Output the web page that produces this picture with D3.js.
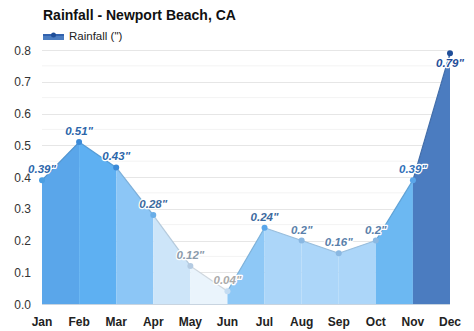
<!DOCTYPE html>
<html><head><meta charset="utf-8">
<script src="https://cdn.jsdelivr.net/npm/d3@7"></script>
<style>body{margin:0;background:#fff;}svg{display:block;font-family:"Liberation Sans",Arial,sans-serif;}</style>
</head><body>
<svg id="c" width="474" height="331"></svg>
<script>
const months = ["Jan","Feb","Mar","Apr","May","Jun","Jul","Aug","Sep","Oct","Nov","Dec"];
const rainfall = [0.39,0.51,0.43,0.28,0.12,0.04,0.24,0.2,0.16,0.2,0.39,0.79];
const valueLabels = ['0.39"','0.51"','0.43"','0.28"','0.12"','0.04"','0.24"','0.2"','0.16"','0.2"','0.39"','0.79"'];
const yTicks = [0,0.1,0.2,0.3,0.4,0.5,0.6,0.7,0.8];
const segmentColors = ["#5aa6ea","#5eb0f2","#8cc6f6","#cde5f9","#eaf4fc","#8ec8f6","#acd6f9","#acd6f9","#acd6f9","#6cb8f2","#4b7cc0"];
const pointColors = ["#4a9ee2","#3b8ad8","#3b8ad8","#6aaee8","#b4cbe2","#c4dcf2","#5aa6ea","#8ab8e2","#8ab8e2","#8ab8e2","#5aa6ea","#1f4e99"];
const labelColors = ["#2c66aa","#2c66aa","#2c66aa","#3d6aa0","#8c9cac","#aaaaaa","#3d6aa0","#5a80aa","#5a80aa","#5a80aa","#3070b8","#1f4e99"];

const svg = d3.select("#c");
const x = d3.scalePoint().domain(months).range([42,450]);
const y = d3.scaleLinear().domain([0,0.8]).range([304,50]);

// minor grid
svg.append("g").selectAll("line").data(d3.range(0.05,0.8,0.1)).join("line")
  .attr("x1",42).attr("x2",450).attr("y1",d=>y(d)).attr("y2",d=>y(d))
  .attr("stroke","#f3f3f3").attr("stroke-width",1);
// major grid
svg.append("g").selectAll("line").data(yTicks.slice(1)).join("line")
  .attr("x1",42).attr("x2",450).attr("y1",d=>Math.round(y(d))+0.5).attr("y2",d=>Math.round(y(d))+0.5)
  .attr("stroke","#e6e6e6").attr("stroke-width",1);

// y axis labels
svg.append("g").selectAll("text").data(yTicks).join("text")
  .attr("x",31).attr("y",d=>y(d)+4.5).attr("text-anchor","end")
  .attr("font-size",12).attr("fill","#333").text(d=>d.toFixed(1));

// area segments
const area = d3.area().x(d=>x(d.m)).y0(y(0)).y1(d=>y(d.v));
const line = d3.line().x(d=>x(d.m)).y(d=>y(d.v));
const pts = months.map((m,i)=>({m, v:rainfall[i]}));
for(let i=0;i<months.length-1;i++){
  const seg=[pts[i],pts[i+1]];
  svg.append("path").datum(seg).attr("d",area).attr("fill",segmentColors[i]);
}
for(let i=0;i<months.length-1;i++){
  const seg=[pts[i],pts[i+1]];
  svg.append("path").datum(seg).attr("d",line).attr("fill","none")
    .attr("stroke",d3.color(segmentColors[i]).darker(0.35)).attr("stroke-width",1.2);
}
// axis line
svg.append("line").attr("x1",42).attr("x2",450).attr("y1",304.5).attr("y2",304.5)
  .attr("stroke","#c8d4e0").attr("stroke-width",1);

// points
svg.append("g").selectAll("circle").data(pts).join("circle")
  .attr("cx",d=>x(d.m)).attr("cy",d=>y(d.v)).attr("r",3)
  .attr("fill",(d,i)=>pointColors[i]);

// value labels
svg.append("g").selectAll("text").data(pts).join("text")
  .attr("x",d=>x(d.m)).attr("y",(d,i)=> i===11 ? y(d.v)+14 : y(d.v)-7)
  .attr("text-anchor","middle").attr("font-size",11.5).attr("font-weight","bold").attr("font-style","italic")
  .attr("fill",(d,i)=>labelColors[i]).attr("stroke","#fff").attr("stroke-width",2.5)
  .attr("paint-order","stroke").attr("stroke-linejoin","round")
  .text((d,i)=>valueLabels[i]);

// x labels
svg.append("g").selectAll("text").data(months).join("text")
  .attr("x",d=>x(d)).attr("y",326).attr("text-anchor","middle")
  .attr("font-size",12).attr("font-weight","bold").attr("fill","#222").text(d=>d);

// title
svg.append("text").attr("x",43).attr("y",20).attr("font-size",14).attr("font-weight","bold")
  .attr("fill","#111").text("Rainfall - Newport Beach, CA");
// legend
svg.append("rect").attr("x",43).attr("y",34).attr("width",21).attr("height",6).attr("fill","#4b7cc0");
svg.append("line").attr("x1",43).attr("x2",64).attr("y1",35).attr("y2",35).attr("stroke","#2a5aa8").attr("stroke-width",1.5);
svg.append("circle").attr("cx",53.5).attr("cy",35).attr("r",2.5).attr("fill","#1f4e99");
svg.append("text").attr("x",69).attr("y",40).attr("font-size",11.5).attr("fill","#222").text('Rainfall (")');
</script>
</body></html>
